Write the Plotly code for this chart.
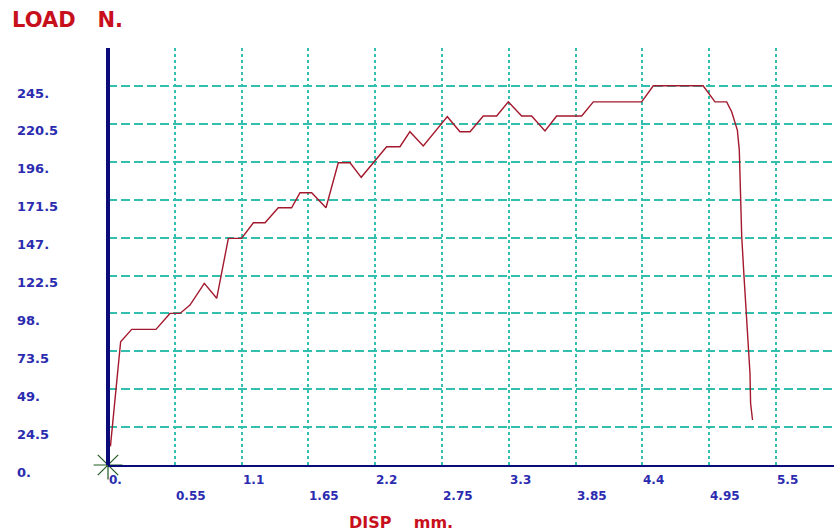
import plotly.graph_objects as go

# ---- data ----
disp = [0.02, 0.104, 0.195, 0.395, 0.51, 0.593, 0.675, 0.793, 0.895, 0.991, 1.10,
        1.197, 1.293, 1.402, 1.512, 1.581, 1.677, 1.795, 1.896, 1.993, 2.085,
        2.211, 2.294, 2.404, 2.486, 2.596, 2.706, 2.794, 2.898, 2.981, 3.09,
        3.2, 3.296, 3.406, 3.488, 3.598, 3.694, 3.9, 3.996, 4.394, 4.49, 4.90,
        4.998, 5.094, 5.135, 5.182, 5.198, 5.218, 5.237, 5.253, 5.272, 5.286,
        5.291, 5.307]
load = [12.0, 79.7, 87.7, 87.7, 98.0, 98.0, 103.4, 117.4, 107.8, 146.5, 146.5,
        156.6, 156.6, 166.3, 166.3, 176.0, 176.0, 166.3, 195.4, 195.4, 186.0,
        197.6, 205.8, 205.8, 215.5, 206.2, 217.0, 225.2, 215.5, 215.5, 225.6,
        225.6, 234.8, 225.6, 225.6, 216.0, 225.6, 225.6, 234.8, 234.8, 245.2, 245.2,
        234.8, 234.8, 228.4, 216.5, 203.6, 147.6, 121.7, 100.2, 80.8, 59.3,
        39.9, 29.1]

x_ticks = [0, 0.55, 1.1, 1.65, 2.2, 2.75, 3.3, 3.85, 4.4, 4.95, 5.5]
x_tick_labels = ["0.", "0.55", "1.1", "1.65", "2.2", "2.75", "3.3", "3.85", "4.4", "4.95", "5.5"]
y_ticks = [0, 24.5, 49, 73.5, 98, 122.5, 147, 171.5, 196, 220.5, 245, 269.5]
y_tick_labels = ["0.", "24.5", "49.", "73.5", "98.", "122.5", "147.", "171.5", "196.", "220.5", "245."]

y_title = "LOAD\u00a0\u00a0\u00a0N."
x_title = "DISP\u00a0\u00a0\u00a0\u00a0mm."

# ---- styles ----
GRID = "#33bfae"
AXIS = "#0a0a78"
LABEL = "#2b2bb0"
TITLE = "#c8101c"
LINE = "#a3182c"
FONT = "DejaVu Sans"
PX_PER_MM = 121.45
PLOT_W = 834 - 108

fig = go.Figure()
fig.add_trace(go.Scatter(x=disp, y=load, mode="lines",
                         line=dict(color=LINE, width=1.4), hoverinfo="skip"))
fig.add_trace(go.Scatter(x=[x_ticks[0]], y=[y_ticks[0]], mode="markers",
                         marker=dict(symbol="asterisk-open", size=24, color="#1f5a1f",
                                     line=dict(color="#1f5a1f", width=1.2)),
                         cliponaxis=False, hoverinfo="skip"))

annotations = []
for i, (v, t) in enumerate(zip(x_ticks, x_tick_labels)):
    annotations.append(dict(x=v, xref="x", y=0, yref="y", text=f"<b>{t}</b>", showarrow=False,
                            xanchor="left", yanchor="middle",
                            yshift=-15 if i % 2 == 0 else -31, xshift=-1,
                            font=dict(family=FONT, size=12, color=LABEL)))
for v, t in zip(y_ticks, y_tick_labels):
    annotations.append(dict(x=-93 / PLOT_W, xref="paper", y=v, yref="y", text=f"<b>{t}</b>",
                            showarrow=False, xanchor="left", yanchor="middle",
                            yshift=-7,
                            font=dict(family=FONT, size=13, color=LABEL)))
annotations.append(dict(x=-98 / PLOT_W, xref="paper", y=1, yref="paper",
                        text=f"<b>{y_title}</b>", showarrow=False,
                        xanchor="left", yanchor="middle", yshift=28,
                        font=dict(family=FONT, size=21, color=TITLE)))
annotations.append(dict(x=(347 - 108) / PLOT_W, xref="paper", y=0, yref="paper",
                        text=f"<b>{x_title}</b>", showarrow=False,
                        xanchor="left", yanchor="middle", yshift=-57,
                        font=dict(family=FONT, size=16, color=TITLE)))

# thick vertical axis line along the left edge of the plot area
shapes = [dict(type="line", xref="paper", yref="paper", x0=0, x1=0, y0=0, y1=1,
               line=dict(color=AXIS, width=4), layer="above")]

fig.update_layout(
    width=834, height=531,
    margin=dict(l=108, r=0, t=48, b=66),
    paper_bgcolor="white", plot_bgcolor="white",
    showlegend=False,
    annotations=annotations,
    shapes=shapes,
    xaxis=dict(range=[0, PLOT_W / PX_PER_MM], tickvals=x_ticks[1:], showticklabels=False,
               ticks="", showgrid=True, gridcolor=GRID, gridwidth=1.5, griddash="dot",
               zeroline=False, showline=True, linecolor=AXIS, linewidth=2,
               fixedrange=True),
    yaxis=dict(range=[0, 269.6], tickvals=y_ticks[1:], showticklabels=False,
               ticks="", showgrid=True, gridcolor=GRID, gridwidth=1.5, griddash="9px,4px",
               zeroline=False, showline=False, fixedrange=True),
)

fig.write_html("out.html", config={"displayModeBar": False},
               post_script="document.body.style.margin='0';document.body.style.overflow='hidden';")
